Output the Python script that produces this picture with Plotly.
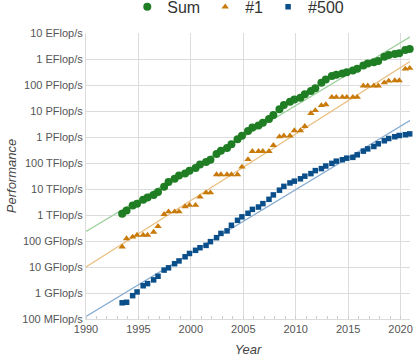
import plotly.graph_objects as go

# TOP500 list dates (June / November lists), decimal years
list_dates = [
    1993.45, 1993.87, 1994.45, 1994.87, 1995.45, 1995.87, 1996.45, 1996.87,
    1997.45, 1997.87, 1998.45, 1998.87, 1999.45, 1999.87, 2000.45, 2000.87,
    2001.45, 2001.87, 2002.45, 2002.87, 2003.45, 2003.87, 2004.45, 2004.87,
    2005.45, 2005.87, 2006.45, 2006.87, 2007.45, 2007.87, 2008.45, 2008.87,
    2009.45, 2009.87, 2010.45, 2010.87, 2011.45, 2011.87, 2012.45, 2012.87,
    2013.45, 2013.87, 2014.45, 2014.87, 2015.45, 2015.87, 2016.45, 2016.87,
    2017.45, 2017.87, 2018.45, 2018.87, 2019.45, 2019.87, 2020.45, 2020.87,
]

# Performance values in GFlop/s
sum_gflops = [
    1128, 1500, 2300, 2700, 3900, 4700, 5900, 7700,
    12200, 18500, 24600, 33200, 39400, 50500, 64300, 88100,
    108600, 134400, 222300, 293800, 374900, 528100, 813000, 1127000,
    1690000, 2300000, 2790000, 3530000, 4920000, 6970000, 11700000, 16950000,
    22600000, 27950000, 32400000, 43700000, 58900000, 74200000, 123400000, 162000000,
    223000000, 250000000, 274000000, 309000000, 363000000, 420000000, 566700000, 672000000,
    749000000, 845000000, 1220000000, 1414000000, 1559000000, 1650000000, 2220000000, 2430000000,
]

top1_gflops = [
    59.7, 124, 143.4, 170, 170, 170, 220.4, 368.2,
    1068, 1338, 1338, 1338, 2121, 2379, 2379, 4938,
    7226, 7226, 35860, 35860, 35860, 35860, 35860, 70720,
    136800, 280600, 280600, 280600, 280600, 478200, 1026000, 1105000,
    1105000, 1759000, 1759000, 2566000, 8162000, 10510000, 16320000, 17590000,
    33860000, 33860000, 33860000, 33860000, 33860000, 33860000, 93010000, 93010000,
    93010000, 93010000, 122300000, 143500000, 148600000, 148600000, 415530000, 442010000,
]

top500_gflops = [
    0.42, 0.44, 0.79, 1.1, 1.9, 2.3, 3.2, 4.4,
    7.6, 9.3, 13.4, 17.1, 24.7, 33.1, 43.8, 55.1,
    67.8, 94.3, 134.3, 195.8, 245.1, 403.4, 624, 850.6,
    1166, 1646, 2026, 2737, 4005, 5929, 9000, 12640,
    17090, 20050, 24670, 31120, 39090, 50940, 60820, 76500,
    96620, 117800, 133700, 153400, 164800, 206300, 286100, 349300,
    432200, 548300, 715600, 874800, 1022000, 1142000, 1228000, 1317000,
]

# Exponential trend lines (endpoints), GFlop/s
trend_years = [1990, 2021.5]
sum_trend = [234, 9.8e9]
top1_trend = [10, 1.15e9]
top500_trend = [0.126, 6.0e6]

# Y tick values (GFlop/s) and labels
ytick_vals = [0.1, 1, 10, 100, 1e3, 1e4, 1e5, 1e6, 1e7, 1e8, 1e9, 1e10]
ytick_text = ["100 MFlop/s", "1 GFlop/s", "10 GFlop/s", "100 GFlop/s",
              "1 TFlop/s", "10 TFlop/s", "100 TFlop/s", "1 PFlop/s",
              "10 PFlop/s", "100 PFlop/s", "1 EFlop/s", "10 EFlop/s"]
xtick_vals = [1990, 1995, 2000, 2005, 2010, 2015, 2020]

GREEN = "#1f7d23"
ORANGE = "#c87a0a"
BLUE = "#0b4f8a"

fig = go.Figure()

fig.add_trace(go.Scatter(x=trend_years, y=sum_trend, mode="lines",
                         line=dict(color="#9ccf9c", width=1.3),
                         showlegend=False, hoverinfo="skip"))
fig.add_trace(go.Scatter(x=trend_years, y=top1_trend, mode="lines",
                         line=dict(color="#e9bf80", width=1.3),
                         showlegend=False, hoverinfo="skip"))
fig.add_trace(go.Scatter(x=trend_years, y=top500_trend, mode="lines",
                         line=dict(color="#86abd0", width=1.3),
                         showlegend=False, hoverinfo="skip"))

fig.add_trace(go.Scatter(x=list_dates, y=sum_gflops, mode="markers", name="Sum",
                         marker=dict(symbol="circle", size=8, color=GREEN),
                         cliponaxis=False))
fig.add_trace(go.Scatter(x=list_dates, y=top1_gflops, mode="markers", name="#1",
                         marker=dict(symbol="triangle-up", size=6.5, color=ORANGE),
                         cliponaxis=False))
fig.add_trace(go.Scatter(x=list_dates, y=top500_gflops, mode="markers", name="#500",
                         marker=dict(symbol="square", size=5.5, color=BLUE),
                         cliponaxis=False))

fig.update_layout(
    width=416, height=357,
    margin=dict(l=86, r=6, t=33, b=38, autoexpand=False),
    paper_bgcolor="white", plot_bgcolor="white",
    font=dict(family="Liberation Sans, Arial, sans-serif", color="#555555", size=11),
    legend=dict(orientation="h", x=0.47, xanchor="center", y=1.091, yanchor="middle",
                yref="paper", font=dict(size=16, color="#333333"),
                itemwidth=30, tracegroupgap=0, bgcolor="rgba(0,0,0,0)"),
    xaxis=dict(range=[1990, 2020.9], tickvals=xtick_vals, automargin=False,
               showgrid=True, gridcolor="#dcdcdc", gridwidth=1,
               showline=True, linecolor="#dcdcdc", linewidth=1,
               zeroline=False, ticks="", tickfont=dict(size=11, color="#555555"),
               minor=dict(dtick=1, tick0=1990, ticks="inside", ticklen=3,
                          tickcolor="#cccccc", showgrid=False),
               title=dict(text="<i>Year</i>", font=dict(size=13, color="#444444"), standoff=12)),
    yaxis=dict(type="log", range=[-1, 10], tickvals=ytick_vals, ticktext=ytick_text,
               automargin=False,
               showgrid=True, gridcolor="#dcdcdc", gridwidth=1,
               showline=True, linecolor="#dcdcdc", linewidth=1,
               zeroline=False, ticks="", tickfont=dict(size=11, color="#555555"),
               title=dict(text="<i>Performance</i>", font=dict(size=13, color="#444444"), standoff=2)),
)

fig.write_html("out.html", config={"displayModeBar": False},
               post_script="document.body.style.margin='0';document.body.style.overflow='hidden';")
